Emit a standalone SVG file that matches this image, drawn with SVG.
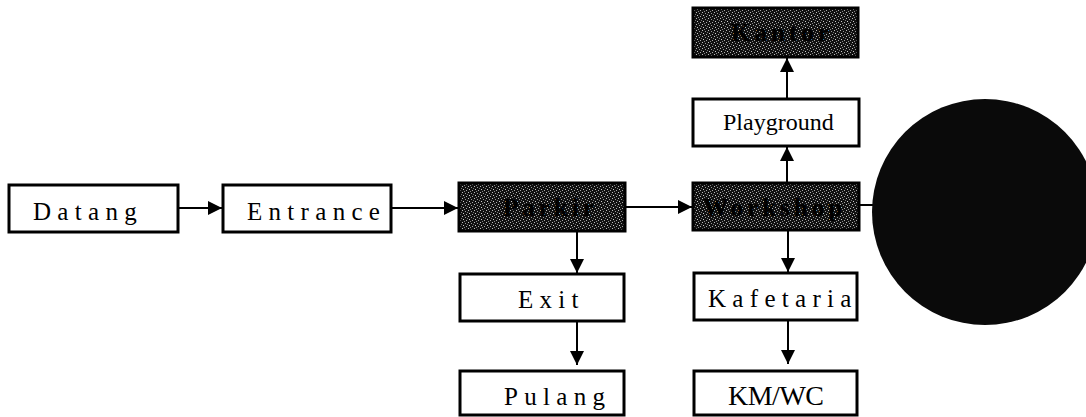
<svg xmlns="http://www.w3.org/2000/svg" width="1086" height="417" viewBox="0 0 1086 417">
<style>
.box{fill:#fff;stroke:#000;stroke-width:3}
.dark{fill:url(#noise);stroke:#000;stroke-width:3}
.t{font-family:"Liberation Serif",serif;font-size:25px;fill:#000}
.sp{letter-spacing:6.3px}
.dt{font-family:"Liberation Serif",serif;font-size:25px;fill:#000;letter-spacing:4px;font-weight:bold}
.c{stroke:#000;stroke-width:2;fill:none}
</style>
<defs>
<pattern id="noise" width="6" height="6" patternUnits="userSpaceOnUse">
<rect width="6" height="6" fill="#111"/>
<rect x="0" y="0" width="1" height="1" fill="#bbb"/>
<rect x="3" y="1" width="1" height="1" fill="#999"/>
<rect x="1" y="3" width="1" height="1" fill="#ccc"/>
<rect x="4" y="4" width="1" height="1" fill="#aaa"/>
<rect x="5" y="2" width="1" height="1" fill="#777"/>
<rect x="2" y="5" width="1" height="1" fill="#888"/>
</pattern>
<marker id="ah" markerWidth="14" markerHeight="14" refX="14" refY="7" orient="auto" markerUnits="userSpaceOnUse">
<path d="M0,0 L14,7 L0,14 Z" fill="#000"/>
</marker>
</defs>

<g id="connectors">
<line class="c" x1="178" y1="208" x2="222" y2="208" marker-end="url(#ah)"/>
<line class="c" x1="391" y1="208" x2="458" y2="208" marker-end="url(#ah)"/>
<line class="c" x1="625" y1="207" x2="692" y2="207" marker-end="url(#ah)"/>
<line class="c" x1="859" y1="205" x2="884" y2="205"/>
<line class="c" x1="787" y1="182" x2="787" y2="147" marker-end="url(#ah)"/>
<line class="c" x1="787" y1="99" x2="787" y2="58" marker-end="url(#ah)"/>
<line class="c" x1="577" y1="231" x2="577" y2="273" marker-end="url(#ah)"/>
<line class="c" x1="577" y1="321" x2="577" y2="365" marker-end="url(#ah)"/>
<line class="c" x1="788" y1="230" x2="788" y2="272" marker-end="url(#ah)"/>
<line class="c" x1="788" y1="320" x2="788" y2="364" marker-end="url(#ah)"/>
</g>

<g id="datang">
<rect class="box" x="9" y="185" width="169" height="47"/>
<text class="t sp" x="33" y="220">Datang</text>
</g>
<g id="entrance">
<rect class="box" x="223" y="185" width="168" height="47"/>
<text class="t sp" x="247" y="220">Entrance</text>
</g>
<g id="parkir">
<rect class="dark" x="459" y="183" width="166" height="48"/>
<text class="dt" x="503" y="216">Parkir</text>
</g>
<g id="workshop">
<rect class="dark" x="693" y="183" width="166" height="47"/>
<text class="dt" x="703" y="216">Workshop</text>
</g>
<g id="kantor">
<rect class="dark" x="693" y="8" width="165" height="49"/>
<text class="dt" x="731" y="41">Kantor</text>
</g>
<g id="playground">
<rect class="box" x="693" y="99" width="166" height="47"/>
<text class="t" x="723" y="130" style="font-size:24px">Playground</text>
</g>
<g id="exit">
<rect class="box" x="460" y="274" width="164" height="47"/>
<text class="t sp" x="518" y="308">Exit</text>
</g>
<g id="pulang">
<rect class="box" x="460" y="371" width="164" height="44"/>
<text class="t sp" x="504" y="405">Pulang</text>
</g>
<g id="kafetaria">
<rect class="box" x="694" y="273" width="163" height="47"/>
<text class="t sp" x="708" y="307">Kafetaria</text>
</g>
<g id="kmwc">
<rect class="box" x="694" y="371" width="163" height="44"/>
<text class="t" x="728" y="405" style="font-size:28px;letter-spacing:-0.5px">KM/WC</text>
</g>
<g id="circle">
<circle cx="985" cy="212" r="113" fill="#0a0a0a"/>
</g>
</svg>
